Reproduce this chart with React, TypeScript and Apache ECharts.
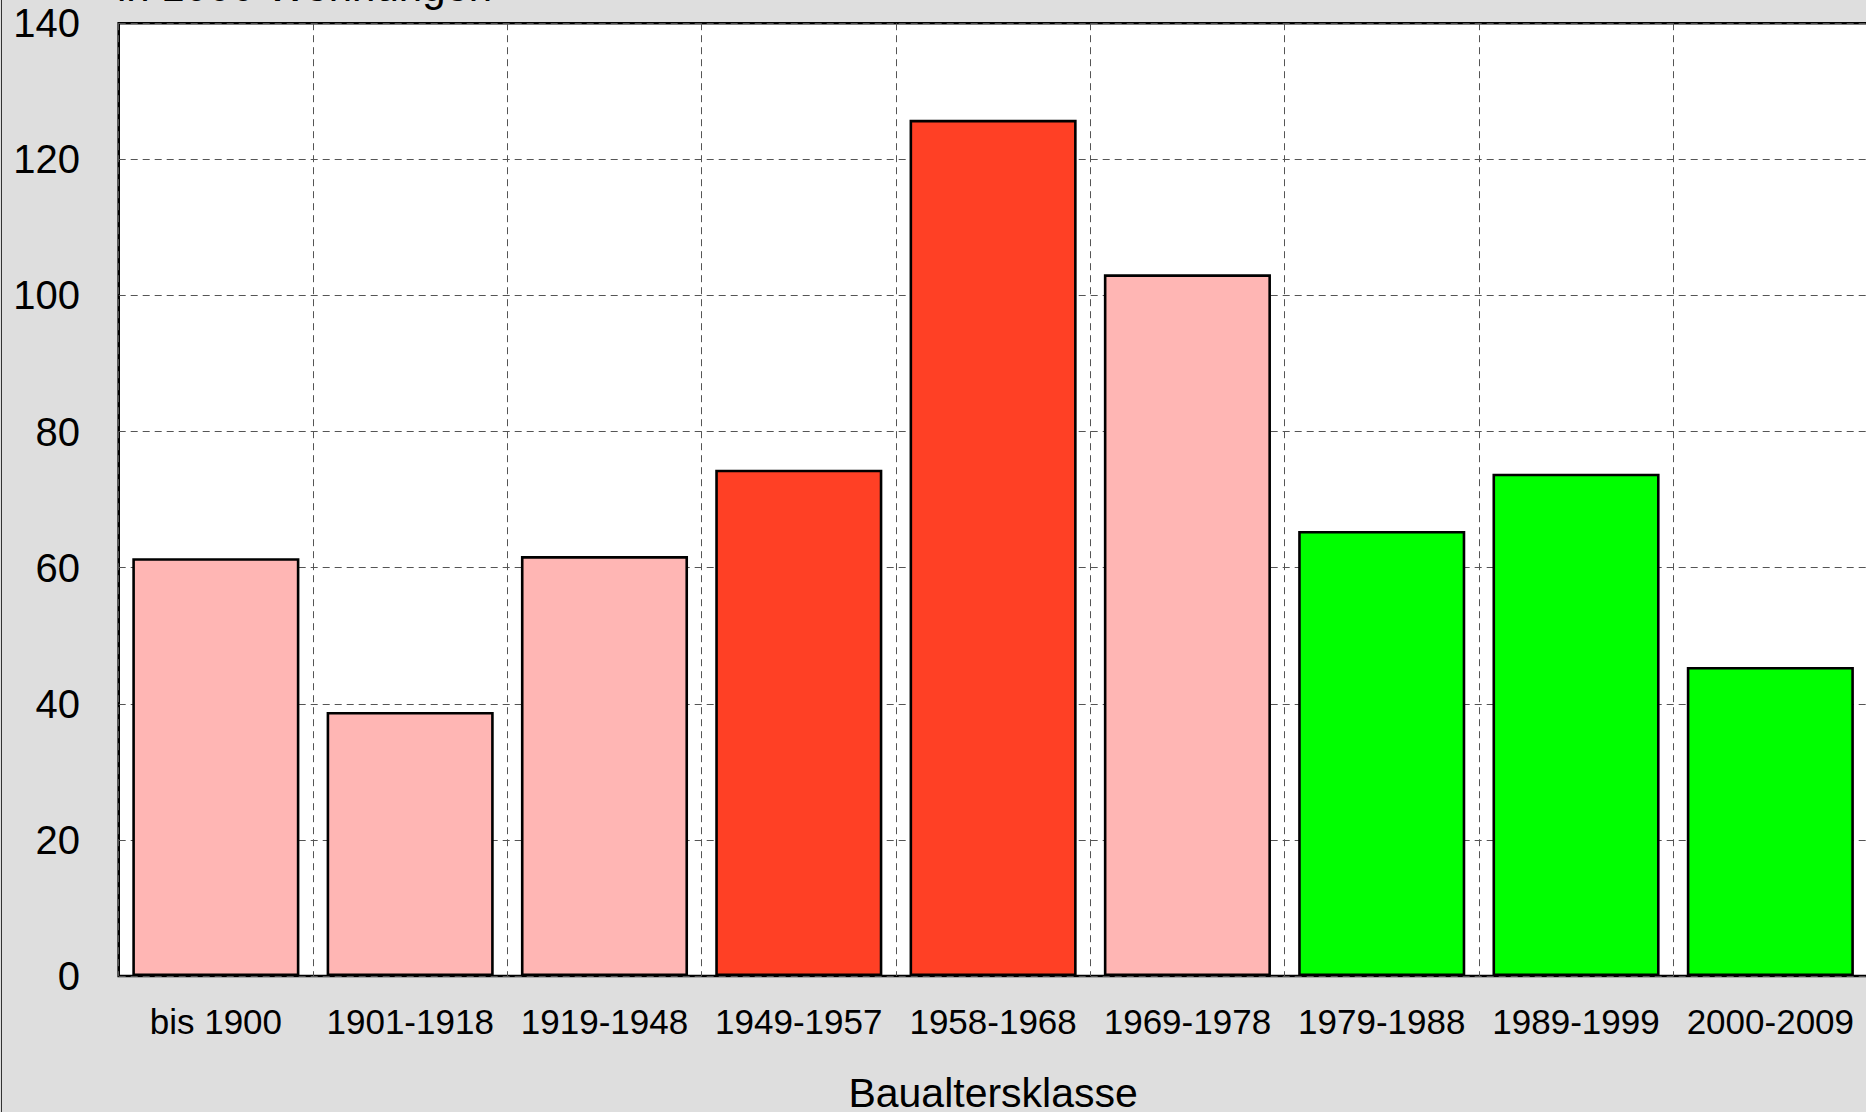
import React, { useEffect, useRef } from "react";
import * as echarts from "echarts";

const categories = [
  "bis 1900",
  "1901-1918",
  "1919-1948",
  "1949-1957",
  "1958-1968",
  "1969-1978",
  "1979-1988",
  "1989-1999",
  "2000-2009",
];
const values = [61.4, 38.8, 61.7, 74.4, 125.8, 103.1, 65.4, 73.8, 45.4];
const barColors = [
  "#FFB6B4",
  "#FFB6B4",
  "#FFB6B4",
  "#FF4025",
  "#FF4025",
  "#FFB6B4",
  "#00FF00",
  "#00FF00",
  "#00FF00",
];
const yTicks = { min: 0, max: 140, interval: 20 };
const titleText = "in 1000 Wohnungen";
const xAxisName = "Baualtersklasse";

const FONT = "Arial, 'Liberation Sans', sans-serif";

export default function App() {
  const ref = useRef<HTMLDivElement>(null);
  useEffect(() => {
    if (!ref.current) return;
    const chart = echarts.init(ref.current, undefined, { renderer: "svg" });
    chart.setOption({
      animation: false,
      backgroundColor: "#DEDEDE",
      textStyle: { fontFamily: FONT },
      grid: {
        show: true,
        left: 118.7,
        top: 23.2,
        right: -1.5,
        bottom: 1112 - 976,
        outerBoundsMode: "none",
        containLabel: false,
        backgroundColor: "#FFFFFF",
        borderColor: "#000000",
        borderWidth: 2.6,
        z: 0,
      },
      xAxis: {
        type: "category",
        data: categories,
        boundaryGap: true,
        name: xAxisName,
        nameLocation: "middle",
        nameGap: 96.5,
        nameTextStyle: {
          fontSize: 41,
          lineHeight: 41,
          color: "#000",
          fontFamily: FONT,
        },
        axisLine: { show: false },
        axisTick: { show: false },
        axisLabel: {
          interval: 0,
          fontSize: 35,
          lineHeight: 35,
          margin: 27.5,
          color: "#000",
          fontFamily: FONT,
        },
        splitLine: {
          show: true,
          interval: 0,
          lineStyle: { color: "#555", width: 1, type: [7, 5] },
        },
      },
      yAxis: {
        type: "value",
        min: yTicks.min,
        max: yTicks.max,
        interval: yTicks.interval,
        axisLine: { show: false },
        axisTick: { show: false },
        axisLabel: {
          fontSize: 40,
          margin: 38.7,
          color: "#000",
          fontFamily: FONT,
        },
        splitLine: {
          show: true,
          lineStyle: { color: "#555", width: 1, type: [7, 5] },
        },
      },
      series: [
        {
          type: "bar",
          barWidth: "86%",
          data: values.map((v, i) => ({
            value: v,
            itemStyle: {
              color: barColors[i],
              borderColor: "#000",
              borderWidth: 2.6,
            },
          })),
        },
      ],
      graphic: [
        {
          type: "text",
          left: 117,
          top: -35,
          style: {
            text: titleText,
            fontSize: 42,
            fontFamily: FONT,
            fill: "#000",
          },
        },
        {
          type: "line",
          shape: { x1: 1.5, y1: 0, x2: 1.5, y2: 1112 },
          style: { stroke: "#333", lineWidth: 1 },
        },
      ],
    });
    return () => chart.dispose();
  }, []);
  return (
    <div
      ref={ref}
      style={{ position: "fixed", left: 0, top: 0, width: 1866, height: 1112 }}
    />
  );
}
